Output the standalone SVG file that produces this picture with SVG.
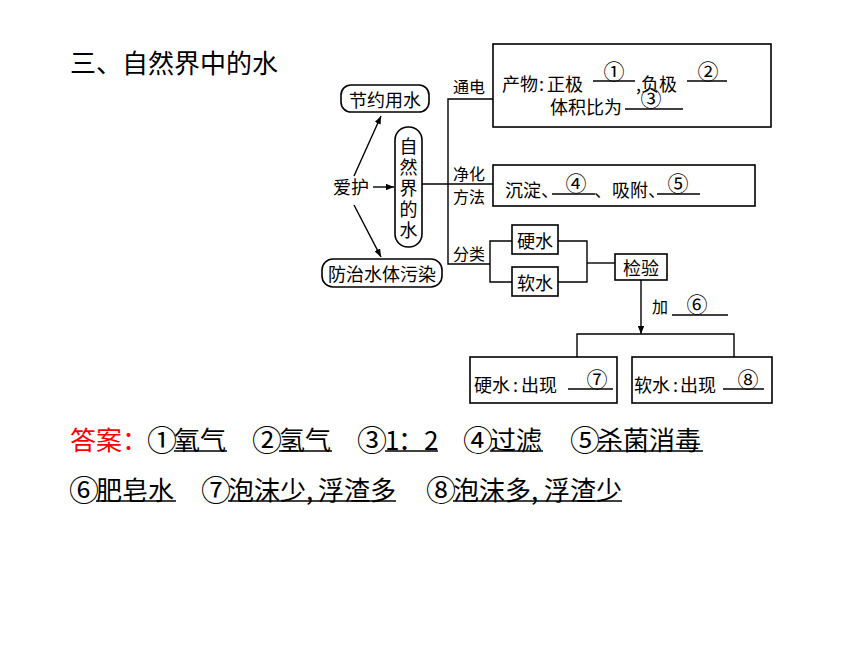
<svg xmlns="http://www.w3.org/2000/svg" width="860" height="645" viewBox="0 0 860 645">
<defs>
<style>
text{font-family:"Noto Sans CJK SC","Noto Sans",sans-serif;fill:#000;dominant-baseline:central}
.t{font-size:26px}
.c{font-size:30px}
.d{font-size:18px}
.s{font-size:16px}
.n{font-size:21px;text-anchor:middle}
.m{text-anchor:middle}
.box{fill:#fff;stroke:#000;stroke-width:1.6}
.ln{stroke:#000;stroke-width:1.4;fill:none}
.ul{stroke:#000;stroke-width:1.3}
.red{fill:#ff0000}
</style>
<marker id="ah" viewBox="0 0 10 8" refX="10" refY="4" markerWidth="8" markerHeight="6.4" orient="auto" markerUnits="userSpaceOnUse">
<path d="M0,0 L10,4 L0,8 z" fill="#000"/>
</marker>
</defs>
<rect width="860" height="645" fill="#fff"/>

<text id="title" class="t" x="70" y="61">三、自然界中的水</text>

<g id="connectors">
<line class="ln" x1="354" y1="176" x2="381" y2="116" marker-end="url(#ah)"/>
<line class="ln" x1="354" y1="205" x2="381" y2="257" marker-end="url(#ah)"/>
<line class="ln" x1="373" y1="187" x2="394" y2="187" marker-end="url(#ah)"/>
<line class="ln" x1="422" y1="184" x2="493" y2="184"/>
<polyline class="ln" points="493,99 448,99 448,264 490,264"/>
<polyline class="ln" points="512,241 490,241 490,282 512,282"/>
<polyline class="ln" points="558,241 587,241 587,282 558,282"/>
<line class="ln" x1="587" y1="263" x2="615" y2="263"/>
<line class="ln" x1="641" y1="280" x2="641" y2="334" marker-end="url(#ah)"/>
<polyline class="ln" points="577,357 577,334 734,334 734,357"/>
</g>

<g id="n-save">
<rect class="box" x="341" y="85" width="88" height="27" rx="10"/>
<text class="d m" x="385" y="99">节约用水</text>
</g>
<g id="n-natural">
<rect class="box" x="395" y="127" width="27" height="120" rx="13"/>
<text class="d m" x="408.5" y="145">自</text>
<text class="d m" x="408.5" y="166">然</text>
<text class="d m" x="408.5" y="187">界</text>
<text class="d m" x="408.5" y="208">的</text>
<text class="d m" x="408.5" y="229">水</text>
</g>
<g id="n-prevent">
<rect class="box" x="322" y="259" width="120" height="28" rx="11"/>
<text class="d m" x="382" y="273">防治水体污染</text>
</g>
<g id="n-care">
<text class="d" x="333" y="186">爱护</text>
</g>

<g id="labels">
<text class="s" x="453" y="86">通电</text>
<text class="s" x="453" y="173">净化</text>
<text class="s" x="453" y="196">方法</text>
<text class="s" x="453" y="253">分类</text>
<text class="s" x="652" y="306">加</text>
<text class="n" x="697" y="303">⑥</text>
<line class="ul" x1="672" y1="315" x2="728" y2="315"/>
</g>

<g id="n-electro">
<rect class="box" x="493" y="44" width="278" height="83"/>
<text class="d" y="82.5"><tspan x="502">产物</tspan><tspan x="539">:</tspan><tspan x="547">正极</tspan><tspan x="636">,负极</tspan></text>
<text class="d" x="550" y="106">体积比为</text>
<text class="n" x="614" y="70">①</text>
<text class="n" x="708" y="70">②</text>
<text class="n" x="651" y="97">③</text>
<line class="ul" x1="593" y1="81" x2="635" y2="81"/>
<line class="ul" x1="687" y1="81" x2="727" y2="81"/>
<line class="ul" x1="625" y1="109" x2="683" y2="109"/>
</g>

<g id="n-purify">
<rect class="box" x="493" y="165" width="262" height="41"/>
<text class="d" y="189"><tspan x="505">沉淀、</tspan><tspan x="594">、吸附、</tspan></text>
<text class="n" x="576" y="182">④</text>
<text class="n" x="678" y="182">⑤</text>
<line class="ul" x1="552" y1="194" x2="595" y2="194"/>
<line class="ul" x1="657" y1="194" x2="700" y2="194"/>
</g>

<g id="n-hard">
<rect class="box" x="512" y="225" width="46" height="29"/>
<text class="d m" x="535" y="240">硬水</text>
</g>
<g id="n-soft">
<rect class="box" x="512" y="267" width="46" height="29"/>
<text class="d m" x="535" y="282">软水</text>
</g>
<g id="n-test">
<rect class="box" x="615" y="254" width="52" height="26"/>
<text class="d m" x="641" y="267">检验</text>
</g>

<g id="n-hard-result">
<rect class="box" x="470" y="357" width="147" height="46"/>
<text class="d" y="383.5"><tspan x="474">硬水</tspan><tspan x="513">:</tspan><tspan x="521">出现</tspan></text>
<text class="n" x="597" y="378">⑦</text>
<line class="ul" x1="568" y1="389" x2="613" y2="389"/>
</g>
<g id="n-soft-result">
<rect class="box" x="632" y="357" width="140" height="46"/>
<text class="d" y="383.5"><tspan x="634">软水</tspan><tspan x="673">:</tspan><tspan x="680">出现</tspan></text>
<text class="n" x="748" y="378">⑧</text>
<line class="ul" x1="723" y1="389" x2="764" y2="389"/>
</g>

<g id="answers">
<text class="t red" x="70" y="438">答案：</text>
<text class="t" y="438"><tspan class="c" x="147">①</tspan><tspan x="174">氧气</tspan><tspan class="c" x="252">②</tspan><tspan x="279">氢气</tspan><tspan class="c" x="357">③</tspan><tspan x="385">1</tspan><tspan x="398">：</tspan><tspan x="424">2</tspan><tspan class="c" x="463">④</tspan><tspan x="490">过滤</tspan><tspan class="c" x="570">⑤</tspan><tspan x="597">杀菌消毒</tspan></text>
<text class="t" y="488"><tspan class="c" x="69">⑥</tspan><tspan x="96">肥皂水</tspan><tspan class="c" x="201">⑦</tspan><tspan x="228">泡沫少</tspan><tspan x="306">,</tspan><tspan x="318">浮渣多</tspan><tspan class="c" x="426">⑧</tspan><tspan x="453">泡沫多</tspan><tspan x="531">,</tspan><tspan x="544">浮渣少</tspan></text>
<line class="ul" x1="174" y1="451" x2="227" y2="451"/>
<line class="ul" x1="279" y1="451" x2="332" y2="451"/>
<line class="ul" x1="385" y1="451" x2="438" y2="451"/>
<line class="ul" x1="490" y1="451" x2="543" y2="451"/>
<line class="ul" x1="597" y1="451" x2="703" y2="451"/>
<line class="ul" x1="96" y1="501" x2="176" y2="501"/>
<line class="ul" x1="228" y1="501" x2="396" y2="501"/>
<line class="ul" x1="453" y1="501" x2="622" y2="501"/>
</g>
</svg>
